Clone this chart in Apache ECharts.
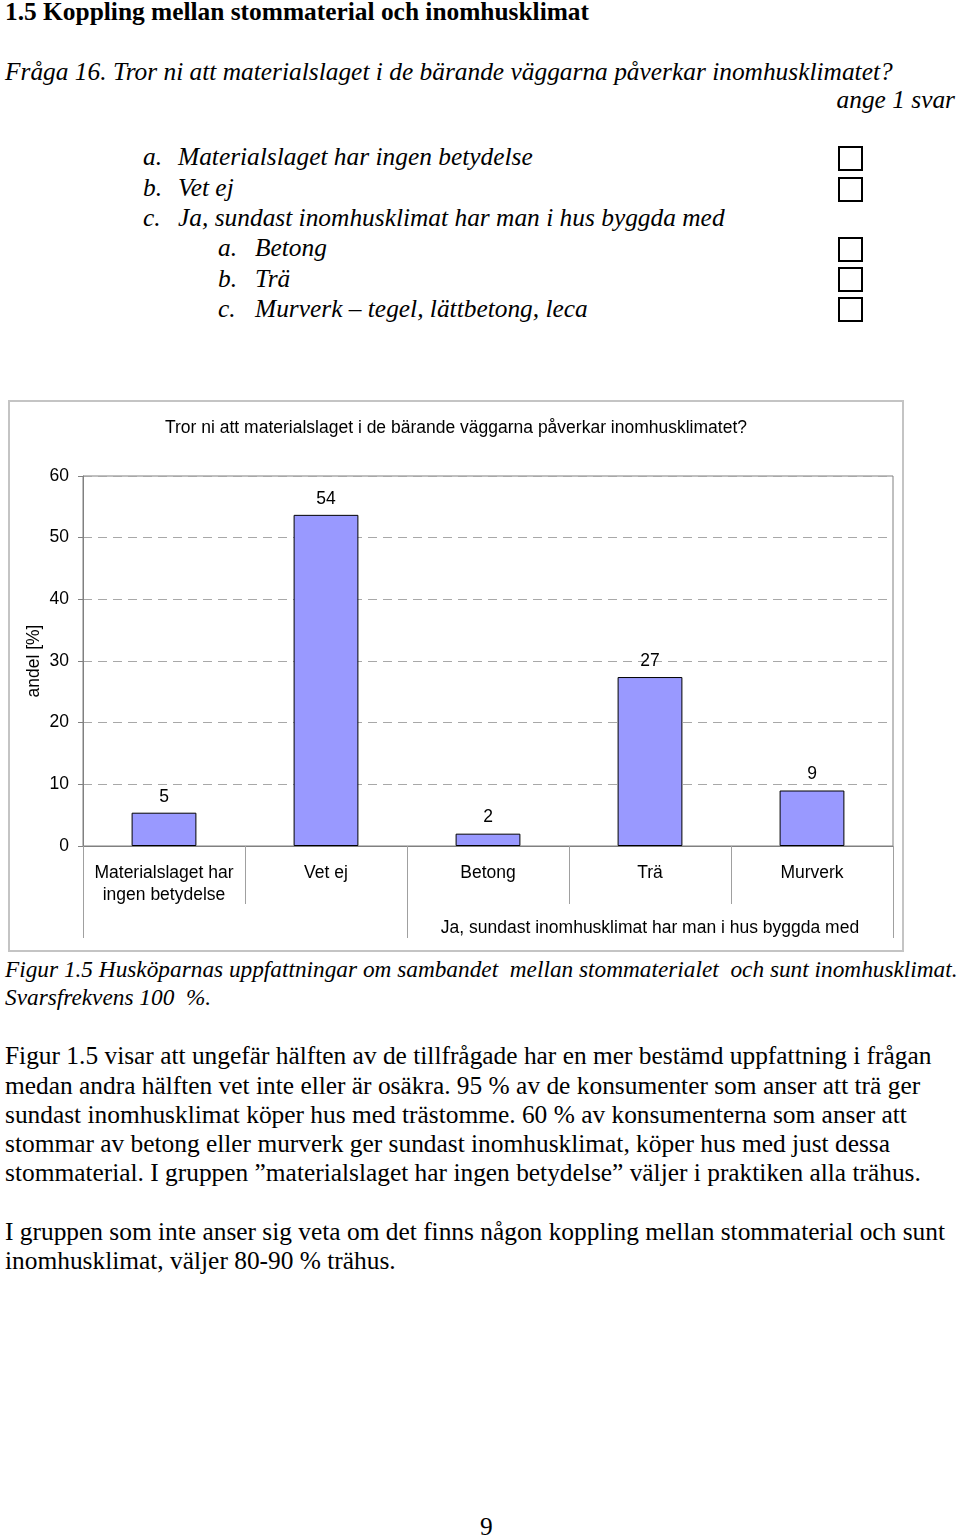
<!DOCTYPE html>
<html>
<head>
<meta charset="utf-8">
<script src="https://cdn.jsdelivr.net/npm/echarts@6/dist/echarts.min.js"></script>
<style>
  html, body { margin:0; padding:0; background:#fff; }
  body { width:960px; height:1536px; position:relative; overflow:hidden; }
  .t { position:absolute; white-space:pre; font-family:"Liberation Serif","Times New Roman",serif; font-size:25.4px; line-height:29px; color:#000; }
  .b { font-weight:bold; }
  .i { font-style:italic; }
  .s { font-size:23.3px; }
  .box { position:absolute; width:21px; height:21px; border:2px solid #000; }
  #frame { position:absolute; left:8px; top:400px; width:892px; height:548px; border:2px solid #c4c4c4; }
  #chart { position:absolute; left:8px; top:400px; width:896px; height:552px; }
</style>
</head>
<body>
<div id="frame"></div>
<div id="chart"></div>
<script>
// ---- chart data ----
const categories = ['Materialslaget har\ningen betydelse', 'Vet ej', 'Betong', 'Trä', 'Murverk'];
const values = [5.4, 53.7, 2, 27.4, 9];
const groupLabels = ['', '', '', 'Ja, sundast inomhusklimat har man i hus byggda med', ''];
const groupBoundaries = [0, 2];
const yTicks = [0, 10, 20, 30, 40, 50, 60];
const chartTitle = 'Tror ni att materialslaget i de bärande väggarna påverkar inomhusklimatet?';
const yName = 'andel [%]';

// ---- document text ----
const textLines = [
  {s:'1.5 Koppling mellan stommaterial och inomhusklimat', x:5, cy:12, cls:'b'},
  {s:'Fråga 16. Tror ni att materialslaget i de bärande väggarna påverkar inomhusklimatet?', x:5, cy:72, cls:'i'},
  {s:'ange 1 svar', right:5, cy:100, cls:'i'},
  {s:'a.', x:143, cy:157, cls:'i'}, {s:'Materialslaget har ingen betydelse', x:178, cy:157, cls:'i'},
  {s:'b.', x:143, cy:188, cls:'i'}, {s:'Vet ej', x:178, cy:188, cls:'i'},
  {s:'c.', x:143, cy:218, cls:'i'}, {s:'Ja, sundast inomhusklimat har man i hus byggda med', x:178, cy:218, cls:'i'},
  {s:'a.', x:218, cy:248, cls:'i'}, {s:'Betong', x:255, cy:248, cls:'i'},
  {s:'b.', x:218, cy:279, cls:'i'}, {s:'Trä', x:255, cy:279, cls:'i'},
  {s:'c.', x:218, cy:309, cls:'i'}, {s:'Murverk – tegel, lättbetong, leca', x:255, cy:309, cls:'i'},
  {s:'Figur 1.5 Husköparnas uppfattningar om sambandet  mellan stommaterialet  och sunt inomhusklimat.', x:5, cy:970, cls:'i s'},
  {s:'Svarsfrekvens 100  %.', x:5, cy:998, cls:'i s'},
  {s:'Figur 1.5 visar att ungefär hälften av de tillfrågade har en mer bestämd uppfattning i frågan', x:5, cy:1056, cls:''},
  {s:'medan andra hälften vet inte eller är osäkra. 95 % av de konsumenter som anser att trä ger', x:5, cy:1086, cls:''},
  {s:'sundast inomhusklimat köper hus med trästomme. 60 % av konsumenterna som anser att', x:5, cy:1115, cls:''},
  {s:'stommar av betong eller murverk ger sundast inomhusklimat, köper hus med just dessa', x:5, cy:1144, cls:''},
  {s:'stommaterial. I gruppen ”materialslaget har ingen betydelse” väljer i praktiken alla trähus.', x:5, cy:1173, cls:''},
  {s:'I gruppen som inte anser sig veta om det finns någon koppling mellan stommaterial och sunt', x:5, cy:1232, cls:''},
  {s:'inomhusklimat, väljer 80-90 % trähus.', x:5, cy:1261, cls:''},
  {s:'9', x:480, cy:1527, cls:''}
];
const boxTops = [146, 177, 237, 267, 297];

textLines.forEach(l => {
  const d = document.createElement('div');
  d.className = 't ' + l.cls;
  d.textContent = l.s;
  d.style.top = (l.cy - 15) + 'px';
  if (l.right !== undefined) d.style.right = l.right + 'px'; else d.style.left = l.x + 'px';
  document.body.appendChild(d);
});
boxTops.forEach(t => {
  const b = document.createElement('div');
  b.className = 'box';
  b.style.left = '838px';
  b.style.top = t + 'px';
  document.body.appendChild(b);
});

const chart = echarts.init(document.getElementById('chart'), null, {renderer:'canvas'});
const FONT = '"Liberation Sans", Arial, sans-serif';
const FS = 17.5;
chart.setOption({
  animation: false,
  title: {
    text: chartTitle, left: 'center', top: 14,
    textStyle: {fontFamily: FONT, fontSize: FS, fontWeight: 'normal', color: '#000'}
  },
  grid: {left: 75, top: 76, width: 810, height: 370, show: true, borderColor: '#808080', borderWidth: 1, containLabel: false},
  xAxis: [
    {
      type: 'category', data: categories, position: 'bottom',
      axisLine: {show: true, lineStyle: {color: '#808080', width: 1}},
      axisTick: {show: true, interval: 0, length: 58, lineStyle: {color: '#a0a0a0'}},
      axisLabel: {interval: 0, margin: 16, fontFamily: FONT, fontSize: FS, color: '#000', lineHeight: 22},
      splitLine: {show: false}
    },
    {
      type: 'category', data: groupLabels, position: 'bottom', gridIndex: 0,
      axisLine: {show: false},
      axisTick: {show: true, length: 92, interval: (i) => groupBoundaries.indexOf(i) >= 0, lineStyle: {color: '#a0a0a0'}},
      axisLabel: {interval: 0, margin: 73, fontFamily: FONT, fontSize: FS, color: '#000', hideOverlap: false},
      splitLine: {show: false}
    }
  ],
  yAxis: {
    type: 'value', min: yTicks[0], max: yTicks[yTicks.length - 1], interval: 10,
    name: yName, nameLocation: 'middle', nameGap: 40, nameRotate: 90, nameMoveOverlap: false,
    nameTextStyle: {fontFamily: FONT, fontSize: FS, color: '#000'},
    axisLine: {show: true, lineStyle: {color: '#808080'}},
    axisTick: {show: true, length: 5, lineStyle: {color: '#808080'}},
    axisLabel: {margin: 14, fontFamily: FONT, fontSize: FS, color: '#000'},
    splitLine: {show: true, lineStyle: {color: '#a8a8a8', type: [9, 6], width: 1}}
  },
  series: [{
    type: 'bar', xAxisIndex: 0, data: values, barWidth: '40%',
    itemStyle: {color: '#9999ff', borderColor: '#000', borderWidth: 1},
    label: {show: true, position: 'top', distance: 7, fontFamily: FONT, fontSize: FS, color: '#000',
      formatter: p => String(Math.round(p.value))}
  }]
});
</script>
</body>
</html>
